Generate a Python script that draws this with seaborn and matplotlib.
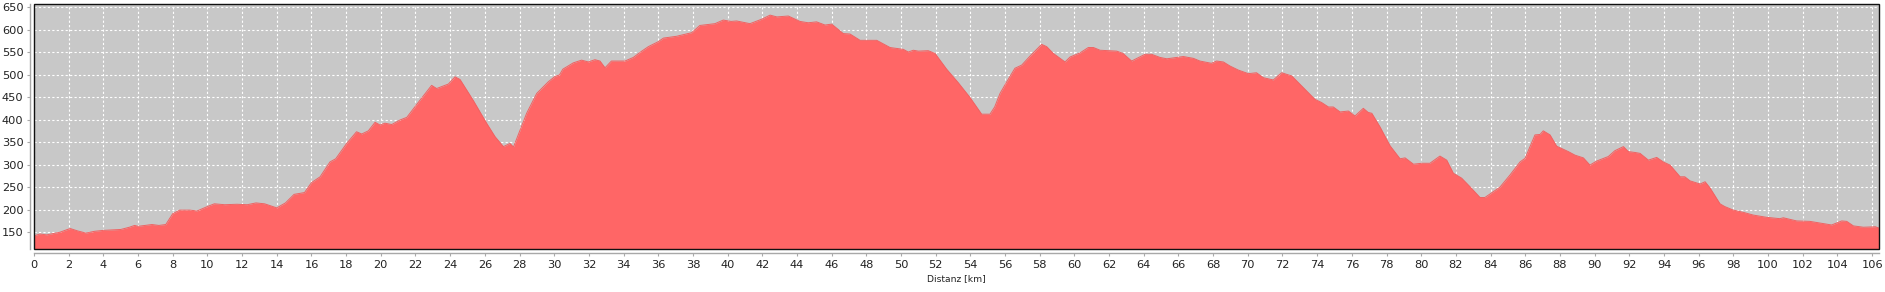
import matplotlib
matplotlib.use("Agg")
import matplotlib.pyplot as plt
import seaborn as sns
import pandas as pd
from matplotlib.patches import Rectangle

# Distance along route [km]
km = [0, 0.35, 0.73, 1.5, 2.0, 2.1, 2.5, 3.0, 3.5, 4.0, 5.0, 5.5, 5.8, 6.0, 6.8, 7.2, 7.6,
      8.0, 8.4, 9.0, 9.4, 10.0, 10.4, 11.0, 11.7, 12.3, 12.8, 13.3, 14.0, 14.5, 15.0, 15.6,
      16.0, 16.5, 17.07, 17.4, 18.03, 18.6, 18.9, 19.28, 19.67, 19.95, 20.24, 20.63, 21.1,
      21.5, 22.26, 22.93, 23.22, 23.9, 24.28, 24.57, 25.34, 26.1, 26.59, 27.07, 27.45, 27.65,
      28.41, 28.99, 29.66, 30.05, 30.3, 30.5, 31.1, 31.58, 31.97, 32.35, 32.64, 32.93, 33.3,
      34.08, 34.56, 35.05, 35.43, 36.0, 36.3, 37.06, 37.93, 38.4, 39.27, 39.75, 40.2, 40.52,
      41.29, 41.97, 42.45, 42.84, 43.5, 44.17, 44.65, 45.13, 45.62, 46.0, 46.67, 47.06, 47.64,
      48.6, 49.37, 50.13, 50.42, 50.71, 51.0, 51.57, 51.96, 52.63, 53.3, 53.98, 54.65, 55.13,
      55.4, 55.71, 56.1, 56.57, 56.96, 57.44, 58.11, 58.4, 58.78, 59.46, 59.75, 60.32, 60.8,
      61.1, 61.48, 62.44, 62.8, 63.3, 64.07, 64.45, 64.94, 65.33, 66.28, 66.86, 67.24, 67.9,
      68.2, 68.59, 68.97, 69.45, 70.03, 70.5, 70.9, 71.47, 71.95, 72.53, 73.2, 73.87, 74.25,
      74.65, 74.93, 75.32, 75.8, 76.18, 76.66, 76.94, 77.15, 77.62, 78.2, 78.78, 79.07, 79.55,
      80.03, 80.5, 81.08, 81.47, 81.85, 82.33, 82.81, 83.39, 83.67, 84.16, 84.54, 85.12, 85.7,
      85.99, 86.56, 86.85, 87.04, 87.43, 87.81, 88.48, 88.87, 89.35, 89.73, 90.12, 90.79,
      91.17, 91.66, 91.94, 92.33, 92.62, 93.1, 93.58, 93.96, 94.35, 94.93, 95.2, 95.5, 96.08,
      96.37, 96.66, 97.23, 97.5, 98.0, 98.58, 99.15, 99.92, 100.69, 100.88, 101.65, 102.42,
      103.38, 103.67, 104.25, 104.54, 104.92, 105.5, 106.2, 106.4]

# Elevation [m]
elev = [142, 146, 144, 150, 157, 158, 153, 148, 152, 154, 156, 161, 165, 163, 167, 165, 167,
        191, 199, 199, 197, 207, 213, 211, 212, 211, 215, 213, 204, 215, 234, 238,
        260, 273, 306, 313, 347, 373, 368, 375, 394, 388, 392, 389, 399,
        405, 443, 476, 469, 479, 495, 489, 442, 392, 362, 340, 347, 339,
        414, 458, 484, 496, 499, 512, 526, 532, 528, 533, 530, 515, 530,
        530, 538, 552, 562, 573, 581, 585, 593, 609, 613, 621, 618, 619,
        613, 623, 632, 628, 630, 618, 615, 617, 610, 612, 591, 590, 576,
        576, 560, 556, 550, 554, 552, 553, 547, 512, 482, 449, 412, 412,
        428, 458, 484, 514, 521, 541, 567, 562, 547, 528, 539, 548, 560,
        560, 554, 552, 547, 530, 545, 545, 538, 535, 540, 536, 530, 525,
        530, 528, 519, 510, 502, 504, 493, 488, 504, 497, 471, 445, 438,
        428, 428, 417, 419, 408, 425, 416, 414, 384, 342, 313, 315, 301,
        303, 303, 319, 310, 281, 270, 251, 227, 227, 240, 250, 277, 306,
        314, 366, 367, 375, 366, 341, 329, 321, 315, 299, 308, 318,
        331, 340, 329, 327, 325, 310, 316, 306, 299, 273, 273, 264, 257,
        262, 248, 213, 207, 199, 194, 188, 183, 180, 182, 175, 174,
        168, 166, 175, 174, 164, 161, 162, 159]

x_ticks = list(range(0, 107, 2))
y_ticks = list(range(150, 651, 50))
x_label = "Distanz [km]"

df = pd.DataFrame({"km": km, "elev": elev})

sns.set_style("ticks")
plt.rcParams["font.family"] = ["DejaVu Sans"]

W, H = 1885, 292
fig = plt.figure(figsize=(W / 100, H / 100), dpi=100)
ax = fig.add_axes([34 / W, (H - 249.3) / H, (1879 - 34) / W, (249.3 - 4.3) / H])

ax.set_facecolor("#C8C8C8")
ax.fill_between(df["km"], df["elev"], 0, color="#FF6666", linewidth=0, zorder=2)
sns.lineplot(data=df, x="km", y="elev", ax=ax, color="#F06262", linewidth=0.7,
             zorder=3, estimator=None, sort=False)

ax.set_xlim(0, 106.4)
ax.set_ylim(112, 656)
ax.set_xticks(x_ticks)
ax.set_yticks(y_ticks)
ax.set_xticklabels([str(v) for v in x_ticks])
ax.set_yticklabels([str(v) for v in y_ticks])

ax.set_axisbelow(True)
ax.grid(True, color="white", linestyle=(0, (2, 2)), linewidth=0.8, zorder=1)

for s in ["top", "right"]:
    ax.spines[s].set_visible(False)
for s in ["left", "bottom"]:
    ax.spines[s].set_position(("outward", 3))
    ax.spines[s].set_color("#A8A8A8")
    ax.spines[s].set_linewidth(1.0)

ax.tick_params(axis="both", direction="out", length=2.5, width=0.8, color="#A8A8A8",
               labelsize=8.2, labelcolor="#222222", pad=2)

# plot frame
ax.add_patch(Rectangle((0, 0), 1, 1, transform=ax.transAxes, fill=False,
                       edgecolor="#111111", linewidth=1.0, zorder=5, clip_on=False))

ax.set_xlabel(x_label, fontsize=6.6, color="#222222", labelpad=3)
ax.set_ylabel("")

fig.savefig("out.png", dpi=100)
